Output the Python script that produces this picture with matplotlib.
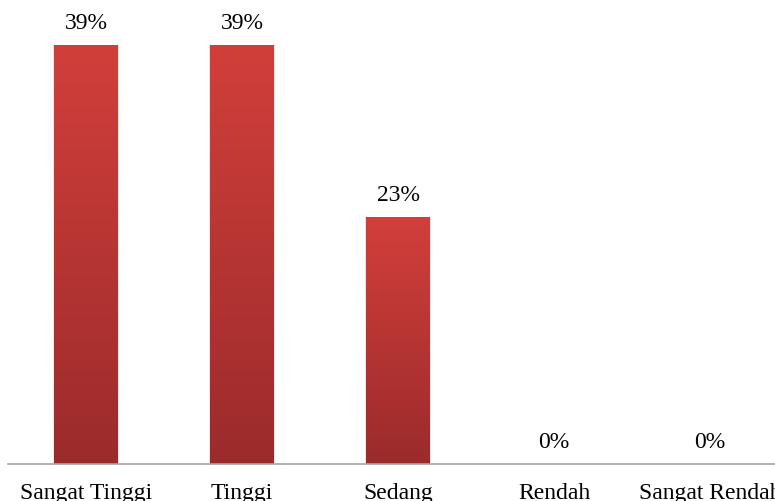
import numpy as np
import matplotlib
matplotlib.use("Agg")
import matplotlib.pyplot as plt
from matplotlib.colors import LinearSegmentedColormap

plt.rcParams["font.family"] = ["Liberation Serif", "DejaVu Serif"]

# data
kategori = ["Sangat Tinggi", "Tinggi", "Sedang", "Rendah", "Sangat Rendah"]
persen = [39, 39, 23, 0, 0]
label = ["39%", "39%", "23%", "0%", "0%"]

fig = plt.figure(figsize=(7.75, 5.02), dpi=100)
# axes runs a bit past the right edge, like the original crop
ax = fig.add_axes([8 / 775, 37 / 502, 780 / 775, 462 / 502])

x = np.arange(len(kategori))
bars = ax.bar(x, persen, width=0.41, color="none", edgecolor="none", zorder=2)

# red vertical gradient inside each bar
cmap = LinearSegmentedColormap.from_list("merah", ["#9b2b2b", "#d23f3b"])
grad = np.linspace(0, 1, 256).reshape(-1, 1)
for b in bars:
    if b.get_height() <= 0:
        continue
    x0, w, h = b.get_x(), b.get_width(), b.get_height()
    # soft shadow
    ax.bar(x0 + w / 2, h, width=w + 0.012, color="#e6e6e6", zorder=1)
    im = ax.imshow(grad, cmap=cmap, origin="lower", aspect="auto",
                   extent=[x0, x0 + w, 0, h], zorder=2)
    im.set_clip_path(b)

for xi, v, t in zip(x, persen, label):
    ax.text(xi, v + 1.1, t, ha="center", va="bottom", fontsize=17)

ax.set_xlim(-0.5, 4.5)
ax.set_ylim(0, 43)
ax.set_xticks(x)
ax.set_xticklabels(kategori, fontsize=17)
ax.tick_params(axis="x", length=0, pad=13)
ax.set_yticks([])
for s in ["top", "right", "left"]:
    ax.spines[s].set_visible(False)
ax.spines["bottom"].set_color("#a6a6a6")
ax.spines["bottom"].set_linewidth(1.2)

fig.savefig("out.png", dpi=100)
